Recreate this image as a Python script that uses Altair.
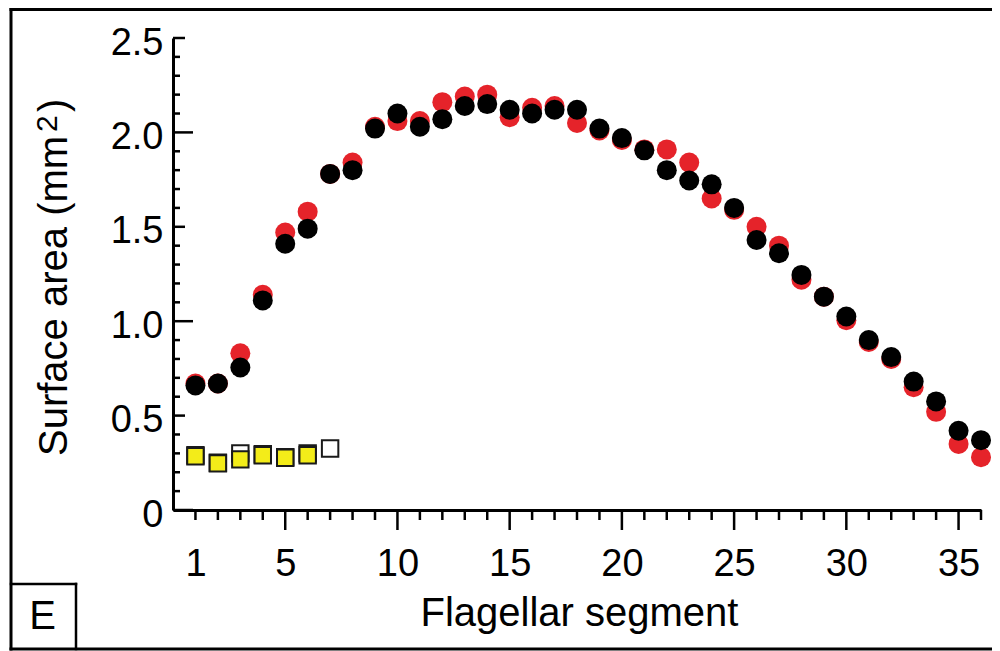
import altair as alt
import pandas as pd

# ---- data ----
segments = list(range(1, 37))
red_vals = [0.67, 0.67, 0.83, 1.14, 1.47, 1.58, 1.78, 1.84, 2.03, 2.06,
            2.06, 2.16, 2.19, 2.20, 2.08, 2.13, 2.14, 2.05, 2.01, 1.96,
            1.91, 1.91, 1.84, 1.65, 1.59, 1.50, 1.40, 1.22, 1.13, 1.005,
            0.89, 0.80, 0.65, 0.52, 0.35, 0.28]
black_vals = [0.66, 0.67, 0.755, 1.11, 1.41, 1.49, 1.78, 1.80, 2.02, 2.10,
              2.03, 2.07, 2.14, 2.15, 2.12, 2.10, 2.12, 2.12, 2.02, 1.97,
              1.905, 1.80, 1.745, 1.725, 1.60, 1.43, 1.36, 1.245, 1.13, 1.025,
              0.90, 0.81, 0.68, 0.575, 0.42, 0.37]
white_seg = [1, 2, 3, 4, 5, 6, 7]
white_vals = [0.29, 0.25, 0.30, 0.295, 0.28, 0.30, 0.326]
yellow_seg = [1, 2, 3, 4, 5, 6]
yellow_vals = [0.285, 0.247, 0.268, 0.29, 0.277, 0.29]

x_label_vals = [1, 5, 10, 15, 20, 25, 30, 35]
y_label_vals = [0, 0.5, 1.0, 1.5, 2.0, 2.5]
x_minor_ticks = [v for v in range(1, 37) if v % 5 != 0]
x_major_ticks = [5, 10, 15, 20, 25, 30, 35]
y_int_ticks = [0, 1, 2]
y_half_ticks = [0.5, 1.5, 2.5]
y_minor_ticks = [round(i / 10, 1) for i in range(1, 25) if i % 5 != 0]

FONT = "Liberation Sans"
W, H = 808, 472

xs = alt.Scale(domain=[0, 36], nice=False, zero=False)
ys = alt.Scale(domain=[0, 2.5], nice=False, zero=True)

red_df = pd.DataFrame({"seg": segments, "val": red_vals})
black_df = pd.DataFrame({"seg": segments, "val": black_vals})
white_df = pd.DataFrame({"seg": white_seg, "val": white_vals})
yellow_df = pd.DataFrame({"seg": yellow_seg, "val": yellow_vals})

x_axis = alt.Axis(values=x_label_vals, ticks=False, tickSize=0, grid=False,
                  domainColor="black", domainWidth=3, labelFontSize=38,
                  labelColor="black", labelFont=FONT, labelPadding=35,
                  labelFlush=False, labelOverlap=False,
                  title="Flagellar segment", titleFont=FONT, titleFontSize=40,
                  titleFontWeight="normal", titleColor="black",
                  titleX=W / 2 + 2, titleY=115, titleBaseline="alphabetic",
                  titleAlign="center")
y_axis = alt.Axis(values=y_label_vals, ticks=False, tickSize=0, grid=False,
                  domainColor="black", domainWidth=3, labelFontSize=38,
                  labelColor="black", labelFont=FONT, labelPadding=10,
                  labelOffset=5, labelFlush=False, labelOverlap=False,
                  labelExpr="datum.value == 0 ? '0' : format(datum.value, '.1f')",
                  title="")

one = pd.DataFrame({"k": [0]})

# y-axis title built from text pieces so the superscript "2" is large
y_title_main = alt.Chart(one).mark_text(
    text="Surface area (mm", font=FONT, fontSize=40, color="black",
    align="left", baseline="alphabetic", angle=270
).encode(x=alt.value(-106), y=alt.value(418))
y_title_sup = alt.Chart(one).mark_text(
    text="2", font=FONT, fontSize=30, color="black",
    align="left", baseline="alphabetic", angle=270
).encode(x=alt.value(-116), y=alt.value(94))
y_title_end = alt.Chart(one).mark_text(
    text=")", font=FONT, fontSize=40, color="black",
    align="left", baseline="alphabetic", angle=270
).encode(x=alt.value(-106), y=alt.value(74))

base_red = alt.Chart(red_df).mark_point(
    shape="circle", filled=True, size=400, color="#e5232a", opacity=1, strokeWidth=0
).encode(
    x=alt.X("seg:Q", scale=xs, axis=x_axis),
    y=alt.Y("val:Q", scale=ys, axis=y_axis),
)

black = alt.Chart(black_df).mark_point(
    shape="circle", filled=True, size=400, color="#000000", opacity=1, strokeWidth=0
).encode(x=alt.X("seg:Q", scale=xs), y=alt.Y("val:Q", scale=ys))

white = alt.Chart(white_df).mark_point(
    shape="square", filled=True, size=270, fill="white", stroke="#1a1a1a",
    strokeWidth=2, opacity=1
).encode(x=alt.X("seg:Q", scale=xs), y=alt.Y("val:Q", scale=ys))

yellow = alt.Chart(yellow_df).mark_point(
    shape="square", filled=True, size=270, fill="#f3ec19", stroke="#1a1a1a",
    strokeWidth=2, opacity=1
).encode(x=alt.X("seg:Q", scale=xs), y=alt.Y("val:Q", scale=ys))

# axis ticks drawn through the scales
def yticks(vals, length):
    return alt.Chart(pd.DataFrame({"v": vals})).mark_rule(
        color="black", strokeWidth=2.5, strokeCap="butt"
    ).encode(y=alt.Y("v:Q", scale=ys), x=alt.value(0), x2=alt.value(length))

def xticks(vals, length):
    return alt.Chart(pd.DataFrame({"v": vals})).mark_rule(
        color="black", strokeWidth=2.5, strokeCap="butt"
    ).encode(x=alt.X("v:Q", scale=xs), y=alt.value(H), y2=alt.value(H + length))

def hline(y, x1, x2, w=3):
    return alt.Chart(one).mark_rule(color="black", strokeWidth=w, strokeCap="square").encode(
        y=alt.value(y), x=alt.value(x1), x2=alt.value(x2))

def vline(x, y1, y2, w=3):
    return alt.Chart(one).mark_rule(color="black", strokeWidth=w, strokeCap="square").encode(
        x=alt.value(x), y=alt.value(y1), y2=alt.value(y2))

BOT = 611.0
frame = [
    hline(-28.5, -162, 830),
    hline(BOT, -162, 830),
    vline(-162, -28.5, BOT),
    hline(546, -162, -97, 2.5),
    vline(-97, 546, BOT, 2.5),
]

e_label = alt.Chart(one).mark_text(
    text="E", font=FONT, fontSize=40, color="black", align="center", baseline="middle"
).encode(x=alt.value(-130.5), y=alt.value(579))

chart = alt.layer(
    base_red, black, white, yellow,
    yticks(y_minor_ticks, 7), yticks(y_half_ticks, 12), yticks(y_int_ticks, 20),
    xticks(x_minor_ticks, 10), xticks(x_major_ticks, 20),
    *frame, e_label, y_title_main, y_title_sup, y_title_end,
).properties(
    width=W, height=H,
    autosize=alt.AutoSizeParams(type="none"),
    padding={"left": 165, "top": 30, "right": 11, "bottom": 141},
    background="white",
).configure_view(strokeWidth=0)

chart.save("out.html", embed_options={"renderer": "svg", "actions": False})
